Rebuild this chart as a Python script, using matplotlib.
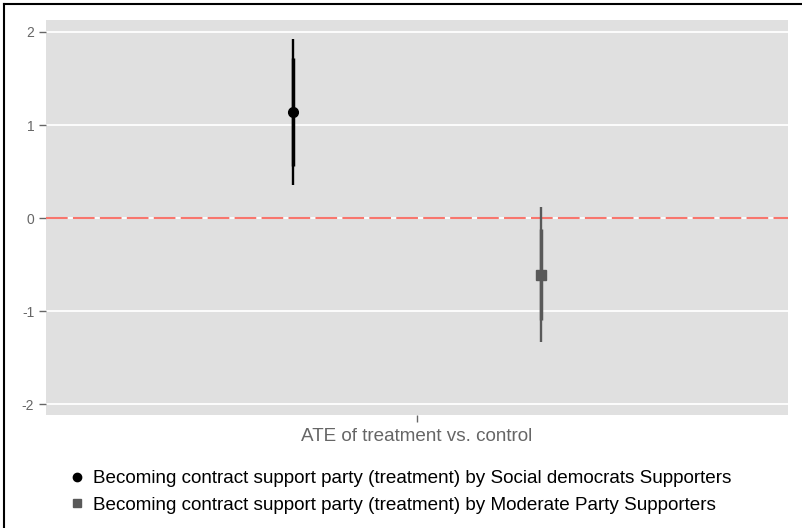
"""
ATE coefficient plot: point estimates with 90% / 95% intervals,
one dodged point per supporter group.
"""

import matplotlib
matplotlib.use("Agg")
import matplotlib.pyplot as plt
from matplotlib.lines import Line2D

plt.rcParams["font.family"] = ["Liberation Sans", "DejaVu Sans"]
plt.rcParams["lines.scale_dashes"] = False
plt.rcParams["axes.unicode_minus"] = False

# --- data ---
category = "ATE of treatment vs. control"
groups = [
    "Becoming contract support party (treatment) by Social democrats Supporters",
    "Becoming contract support party (treatment) by Moderate Party Supporters",
]
estimates = [1.14, -0.61]
ci95_low = [0.35, -1.33]
ci95_high = [1.92, 0.12]
ci90_low = [0.56, -1.10]
ci90_high = [1.72, -0.12]
dodge = [-0.2, 0.2]
colors = ["#000000", "#595959"]
markers = ["o", "s"]

W, H = 802, 528
fig = plt.figure(figsize=(W / 100, H / 100), dpi=100)
ax = fig.add_axes([46 / W, 113 / H, 742 / W, 395 / H])
ax.set_facecolor("#E0E0E0")
for s in ax.spines.values():
    s.set_visible(False)

ax.yaxis.grid(True, color="white", linewidth=1.3)
ax.xaxis.grid(False)
ax.set_axisbelow(True)

ax.axhline(0, color="#F8766D", linewidth=1.5, dashes=(15.6, 3.8), zorder=2)

xs = [1 + d for d in dodge]
for i in range(len(groups)):
    ax.vlines(xs[i], ci95_low[i], ci95_high[i], color=colors[i], linewidth=1.7, zorder=3)
    ax.vlines(xs[i], ci90_low[i], ci90_high[i], color=colors[i], linewidth=2.5, zorder=3)
    ax.plot(xs[i], estimates[i], marker=markers[i], color=colors[i],
            markersize=7, linestyle="", zorder=4)

ax.set_xlim(0.4, 1.6)
ax.set_ylim(-2.118, 2.129)
ax.set_yticks([-2, -1, 0, 1, 2])
ax.set_xticks([1])
ax.set_xticklabels([category])
ax.tick_params(axis="y", length=5, width=1, color="#666666",
               labelcolor="#666666", labelsize=10, pad=3.5)
ax.tick_params(axis="x", length=5, width=1, color="#666666",
               labelcolor="#666666", labelsize=13.6, pad=4.6)

handles = [
    Line2D([], [], marker=markers[i], color=colors[i], linestyle="", markersize=6)
    for i in range(len(groups))
]
fig.legend(handles, groups, loc="upper left",
           bbox_to_anchor=(67.6 / W, 1 - 470 / H), bbox_transform=fig.transFigure,
           frameon=False, fontsize=13.6, handlelength=1.0, handletextpad=0.32,
           labelspacing=0.5, borderpad=0, borderaxespad=0)

# outer frame (top and left edges only, like the reference)
fig.add_artist(Line2D([4 / W, 1], [1 - 4 / H, 1 - 4 / H], transform=fig.transFigure,
                      color="black", linewidth=1.5))
fig.add_artist(Line2D([4 / W, 4 / W], [0, 1 - 4 / H], transform=fig.transFigure,
                      color="black", linewidth=1.5))

fig.savefig("out.png", dpi=100)
